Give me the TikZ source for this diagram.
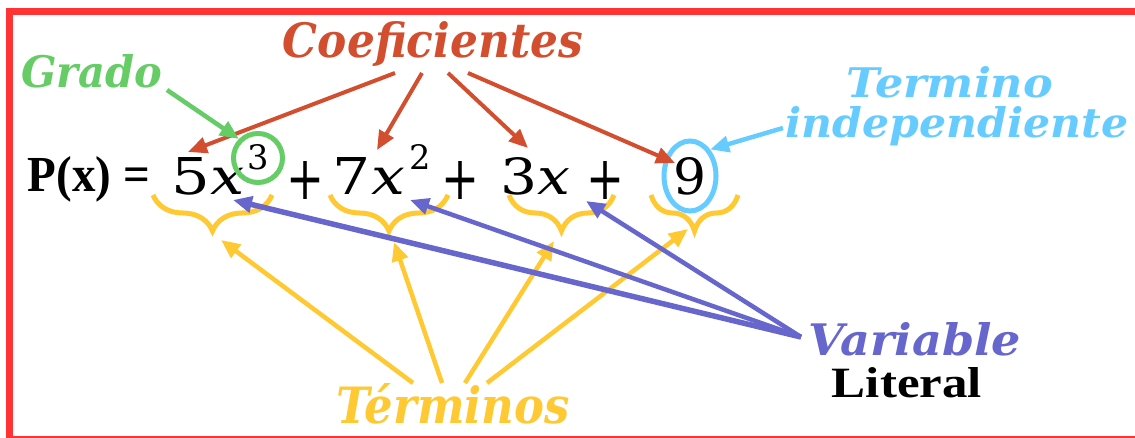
\documentclass[tikz,border=0pt]{standalone}
\usepackage{fontspec}
\setmainfont{Liberation Serif}
\newfontfamily\lblfont{DejaVu Serif}
\usetikzlibrary{arrows.meta,decorations.pathreplacing,shapes.geometric}
\definecolor{framec}{HTML}{FF3333}
\definecolor{coefc}{HTML}{D24E2E}
\definecolor{gradoc}{HTML}{66CC66}
\definecolor{indc}{HTML}{66CCFF}
\definecolor{varc}{HTML}{6666CC}
\definecolor{termc}{HTML}{FFC933}
\begin{document}
\begin{tikzpicture}[x=1pt,y=-1pt,
  lab/.style={inner sep=0pt,anchor=base,font=\lblfont\bfseries\itshape},
  plain/.style={inner sep=0pt,anchor=base,font=\bfseries},
  mth/.style={inner sep=0pt,anchor=base,font=\lblfont},
  plus/.style={inner sep=0pt,font=\lblfont},
  arr/.style={line width=4.5pt,-{Triangle[length=19pt,width=16pt]}},
  bracestyle/.style={termc,line width=5pt,decorate,decoration={brace,mirror,amplitude=36pt,aspect=0.5}}
]
\useasboundingbox (0,0) rectangle (1135,438);
\fill[white] (0,0) rectangle (1135,438);
\draw[framec,line width=7pt] (9.5,11.5) rectangle (1160,439);

% labels
\node[lab,text=coefc] (coef) at (433,58) {\resizebox{300pt}{36pt}{Coeficientes}};
\node[lab,text=gradoc] (grado) at (92,88) {\resizebox{141pt}{33pt}{Grado}};
\node[lab,text=indc] (term) at (950,98) {\resizebox{206pt}{31pt}{Termino}};
\node[lab,text=indc] (indep) at (957,138) {\resizebox{343pt}{31pt}{independiente}};
\node[lab,text=varc] (var) at (915,355) {\resizebox{212pt}{33pt}{Variable}};
\node[lab,text=termc] (terms) at (453,423) {\resizebox{233pt}{40pt}{Términos}};
\node[plain] (lit) at (907,397) {\resizebox{150pt}{30pt}{Literal}};
\node[plain] (px) at (89,192) {\resizebox{122pt}{35pt}{P(x) =}};

% polynomial
\node[mth] (t1) at (208,195) {\resizebox{73pt}{37pt}{5\itshape x}};
\node[mth] (e1) at (258,170) {\resizebox{!}{25pt}{3}};
\node[plus] (p1) at (305,181) {\resizebox{38pt}{38pt}{+}};
\node[mth] (t2) at (369,195) {\resizebox{72pt}{37pt}{7\itshape x}};
\node[mth] (e2) at (420,170) {\resizebox{!}{25pt}{2}};
\node[plus] (p2) at (460,181) {\resizebox{38pt}{38pt}{+}};
\node[mth] (t3) at (535,195) {\resizebox{70pt}{37pt}{3\itshape x}};
\node[plus] (p3) at (605,181) {\resizebox{38pt}{38pt}{+}};
\node[mth] (t4) at (690,195) {\resizebox{33pt}{37pt}{9}};

% circles
\node[circle,draw=gradoc,line width=5pt,minimum size=49pt,inner sep=0pt] (c3) at (258,158) {};
\node[ellipse,draw=indc,line width=5pt,minimum width=52pt,minimum height=70pt,inner sep=0pt] (c9) at (690,176) {};

% braces
\coordinate (b1l) at (153,195); \coordinate (b1r) at (272,195);
\coordinate (b2l) at (330,195); \coordinate (b2r) at (448,195);
\coordinate (b3l) at (509,195); \coordinate (b3r) at (614,195);
\coordinate (b4l) at (651,195); \coordinate (b4r) at (738,195);
\draw[bracestyle] (b1l) -- (b1r);
\draw[bracestyle] (b2l) -- (b2r);
\draw[bracestyle] (b3l) -- (b3r);
\draw[bracestyle] (b4l) -- (b4r);

% coordinates for connector ends
\coordinate (cs1) at (395,73); \coordinate (ce1) at (188,152);
\coordinate (cs2) at (422,73); \coordinate (ce2) at (377,150);
\coordinate (cs3) at (448,73); \coordinate (ce3) at (528,148);
\coordinate (cs4) at (468,73); \coordinate (ce4) at (675,163);
\coordinate (gs) at (167,90);
\coordinate (is) at (783,128);
\coordinate (vs) at (801,337);
\coordinate (ve1) at (233,200); \coordinate (ve2) at (410,200); \coordinate (ve3) at (586,201);
\coordinate (ys1) at (413,383); \coordinate (ye1) at (221,240);
\coordinate (ys2) at (442,383); \coordinate (ye2) at (394,242);
\coordinate (ys3) at (465,383); \coordinate (ye3) at (554,241);
\coordinate (ys4) at (487,383); \coordinate (ye4) at (688,229);

% Términos arrows
\draw[arr,termc] (ys1) -- (ye1);
\draw[arr,termc] (ys2) -- (ye2);
\draw[arr,termc] (ys3) -- (ye3);
\draw[arr,termc] (ys4) -- (ye4);
% Variable arrows
\draw[arr,varc,line width=5.5pt] (vs) -- (ve1);
\draw[arr,varc] (vs) -- (ve2);
\draw[arr,varc] (vs) -- (ve3);
% Coeficientes arrows
\draw[arr,coefc,line width=4pt] (cs1) -- (ce1);
\draw[arr,coefc,line width=4pt] (cs2) -- (ce2);
\draw[arr,coefc,line width=4pt] (cs3) -- (ce3);
\draw[arr,coefc,line width=4pt] (cs4) -- (ce4);
% Grado and independiente arrows
\draw[arr,gradoc] (gs) -- (c3.north west);
\draw[arr,indc] (is) -- (c9.north east);
\end{tikzpicture}
\end{document}
